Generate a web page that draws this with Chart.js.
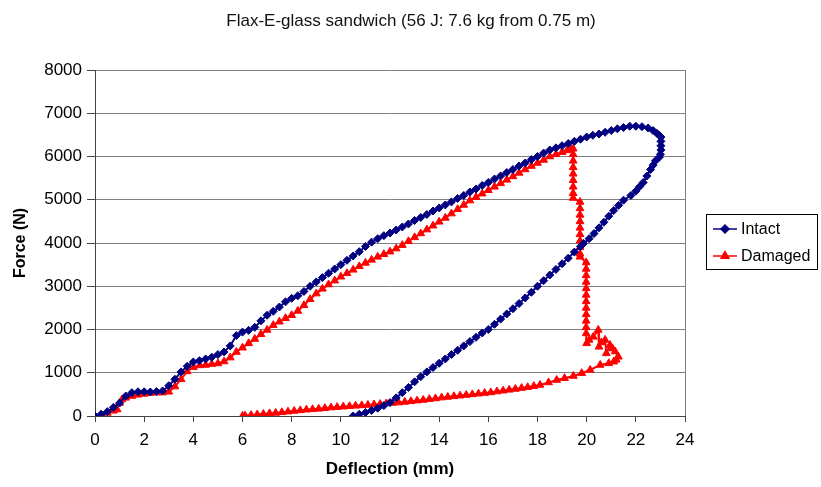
<!DOCTYPE html>
<html>
<head>
<meta charset="utf-8">
<script src="https://cdn.jsdelivr.net/npm/chart.js@4.4.1/dist/chart.umd.min.js"></script>
<style>
  body { margin: 0; background: #fff; }
  canvas { display: block; }
</style>
</head>
<body>
<canvas id="myChart" width="821" height="487"></canvas>
<script>
var chartTitle = 'Flax-E-glass sandwich (56 J: 7.6 kg from 0.75 m)';
var seriesNames = ['Intact', 'Damaged'];

// Intact: loading up to ~23 mm, then unloading back to 10.5 mm
var intactDeflection = [0, 0.25, 0.5, 0.75, 1.0, 1.25, 1.5, 1.75, 2.0, 2.25,
    2.5, 2.75, 3.0, 3.25, 3.5, 3.75, 4.0, 4.25, 4.5, 4.75,
    5.0, 5.25, 5.5, 5.75, 6.0, 6.25, 6.5, 6.75, 7.0, 7.25,
    7.5, 7.75, 8.0, 8.25, 8.5, 8.75, 9.0, 9.25, 9.5, 9.75,
    10.0, 10.25, 10.5, 10.75, 11.0, 11.25, 11.5, 11.75, 12.0, 12.25,
    12.5, 12.75, 13.0, 13.25, 13.5, 13.75, 14.0, 14.25, 14.5, 14.75,
    15.0, 15.25, 15.5, 15.75, 16.0, 16.25, 16.5, 16.75, 17.0, 17.25,
    17.5, 17.75, 18.0, 18.25, 18.5, 18.75, 19.0, 19.25, 19.5, 19.75,
    20.0, 20.25, 20.5, 20.75, 21.0, 21.25, 21.5, 21.75, 22.0,
    22.25, 22.5, 22.7, 22.85, 22.95, 23.02, 23.02, 23.02, 23.02, 23.0,
    22.95, 22.8, 22.7, 22.6, 22.45, 22.3, 22.15, 22.0, 21.8, 21.5,
    21.3, 21.1, 20.9, 20.7, 20.5, 20.3, 20.1, 19.87, 19.75, 19.5,
    19.25, 19.0, 18.75, 18.5, 18.25, 18.0, 17.75, 17.5, 17.25, 17.0,
    16.75, 16.5, 16.25, 16.0, 15.75, 15.5, 15.25, 15.0, 14.75, 14.5,
    14.25, 14.0, 13.75, 13.5, 13.25, 13.0, 12.75, 12.5, 12.25, 12.0,
    11.75, 11.5, 11.25, 11.0, 10.75, 10.5];
var intactForce = [0, 40, 100, 200, 300, 460, 540, 560, 560, 555,
    565, 580, 700, 850, 1020, 1150, 1250, 1280, 1320, 1360,
    1420, 1480, 1620, 1860, 1940, 1980, 2050, 2200, 2330, 2420,
    2520, 2640, 2720, 2780, 2880, 3000, 3100, 3200, 3300, 3400,
    3500, 3600, 3700, 3800, 3920, 4020, 4100, 4170, 4230, 4300,
    4370, 4440, 4520, 4590, 4660, 4740, 4810, 4880, 4950, 5030,
    5100, 5180, 5250, 5330, 5400, 5480, 5550, 5630, 5700, 5780,
    5850, 5930, 6000, 6080, 6150, 6200, 6250, 6300, 6350, 6400,
    6450, 6490, 6520, 6560, 6600, 6640, 6670, 6700, 6700,
    6690, 6660, 6600, 6540, 6490, 6450, 6350, 6250, 6150, 6050,
    5980, 5900, 5800, 5700, 5550, 5400, 5300, 5200, 5100, 4990,
    4870, 4750, 4620, 4480, 4350, 4220, 4100, 3990, 3920, 3790,
    3650, 3520, 3390, 3260, 3130, 3000, 2860, 2730, 2600, 2480,
    2360, 2240, 2120, 2000, 1920, 1820, 1720, 1620, 1520, 1420,
    1320, 1220, 1120, 1020, 910, 790, 660, 540, 420, 310,
    240, 180, 130, 80, 40, 0];

// Damaged: loading to ~19.4 mm, drop, then unloading back to 6 mm
var damagedDeflection = [0, 0.25, 0.5, 0.75, 0.9, 1.0, 1.1, 1.25, 1.5, 1.75,
    2.0, 2.25, 2.5, 2.75, 3.0, 3.25, 3.5, 3.75, 4.0, 4.25,
    4.5, 4.75, 5.0, 5.25, 5.5, 5.75, 6.0, 6.25, 6.5, 6.75,
    7.0, 7.25, 7.5, 7.75, 8.0, 8.25, 8.5, 8.75, 9.0, 9.25,
    9.5, 9.75, 10.0, 10.25, 10.5, 10.75, 11.0, 11.25, 11.5, 11.75,
    12.0, 12.25, 12.5, 12.75, 13.0, 13.25, 13.5, 13.75, 14.0, 14.25,
    14.5, 14.75, 15.0, 15.25, 15.5, 15.75, 16.0, 16.25, 16.5, 16.75,
    17.0, 17.25, 17.5, 17.75, 18.0, 18.25, 18.5, 18.75, 19.0, 19.2,
    19.35, 19.45,
    19.45, 19.45, 19.45, 19.45, 19.45, 19.45, 19.45, 19.45,
    19.73, 19.73, 19.73, 19.73, 19.73, 19.73, 19.73, 19.73, 19.73, 19.73,
    19.98, 19.98, 19.98, 19.98, 19.98, 19.98, 19.98, 19.98, 19.98, 19.98, 19.98, 19.98,
    20.0, 20.1, 20.27, 20.47, 20.5, 20.6, 20.75, 20.8, 20.95, 21.05,
    21.16, 21.29, 21.2, 21.1, 20.9, 20.55, 20.14, 19.8, 19.46, 19.1,
    18.78, 18.45, 18.1,
    17.85, 17.6, 17.35, 17.1, 16.85, 16.6, 16.35, 16.1, 15.85, 15.6,
    15.35, 15.1, 14.85, 14.6, 14.35, 14.1, 13.85, 13.6, 13.35, 13.1,
    12.85, 12.6, 12.35, 12.1, 11.85, 11.6, 11.35, 11.1, 10.85, 10.6,
    10.35, 10.1, 9.85, 9.6, 9.35, 9.1, 8.85, 8.6, 8.35, 8.1,
    7.85, 7.6, 7.35, 7.1, 6.85, 6.6, 6.35, 6.1, 6.0];
var damagedForce = [0, 30, 70, 120, 150, 300, 380, 420, 460, 490,
    510, 530, 540, 540, 560, 680, 850, 1030, 1130, 1170,
    1180, 1200, 1215, 1260, 1350, 1480, 1580, 1680, 1780, 1890,
    1990, 2100, 2180, 2260, 2330, 2430, 2560, 2700, 2830, 2940,
    3040, 3130, 3220, 3300, 3380, 3460, 3540, 3610, 3680, 3740,
    3800, 3870, 3950, 4040, 4130, 4220, 4310, 4400, 4490, 4580,
    4680, 4780, 4880, 4980, 5060, 5140, 5220, 5300, 5380, 5460,
    5540, 5620, 5700, 5780, 5850, 5920, 6000, 6050, 6100, 6140,
    6170, 6180,
    6050, 5900, 5750, 5600, 5450, 5300, 5150, 5040,
    4950, 4800, 4650, 4500, 4350, 4200, 4050, 3900, 3750, 3680,
    3550, 3400, 3250, 3100, 2950, 2800, 2650, 2500, 2350, 2200, 2050, 1910,
    1680, 1760, 1830, 1990, 1600, 1700, 1760, 1450, 1640, 1560,
    1490, 1370, 1300, 1256, 1218, 1180, 1064, 990, 925, 875,
    832, 775, 717,
    690, 665, 645, 625, 605, 585, 565, 545, 530, 515,
    500, 485, 470, 455, 440, 425, 405, 390, 370, 355,
    340, 325, 310, 300, 290, 275, 265, 255, 245, 235,
    225, 215, 205, 195, 180, 165, 155, 145, 130, 115,
    100, 85, 70, 60, 45, 35, 20, 10, 0];

var xTicks = { min: 0, max: 24, step: 2 };
var yTicks = { min: 0, max: 8000, step: 1000 };

var fontFamily = '"Liberation Sans", Arial, sans-serif';
var blue = '#000080';
var red = '#ff0000';

function toPoints(xs, ys) {
    return xs.map(function (x, i) { return { x: x, y: ys[i] }; });
}

// title and boxed legend, drawn like the Excel original
var decorPlugin = {
    id: 'decor',
    afterDraw: function (chart) {
        var c = chart.ctx;
        c.save();
        c.fillStyle = '#111';
        c.font = '17px ' + fontFamily;
        c.textAlign = 'center';
        c.textBaseline = 'middle';
        c.fillText(chartTitle, 411, 21);

        c.strokeStyle = '#000';
        c.lineWidth = 1;
        c.strokeRect(706.5, 214.5, 111, 55);

        var rows = [
            { y: 229, color: blue, style: 'rectRot', r: 4 },
            { y: 256, color: red, style: 'triangle', r: 4.5 }
        ];
        rows.forEach(function (row, i) {
            c.strokeStyle = row.color;
            c.lineWidth = 1.5;
            c.beginPath();
            c.moveTo(713, row.y);
            c.lineTo(737, row.y);
            c.stroke();
            c.fillStyle = row.color;
            Chart.helpers.drawPoint(c, { pointStyle: row.style, radius: row.r, borderWidth: 1 }, 725, row.y);
            c.fill();
            c.fillStyle = '#000';
            c.textAlign = 'left';
            c.font = '16px ' + fontFamily;
            c.fillText(seriesNames[i], 741, row.y + 1);
        });
        c.restore();
    }
};

var ctx = document.getElementById('myChart').getContext('2d');
var myChart = new Chart(ctx, {
    type: 'scatter',
    data: {
        datasets: [{
            label: seriesNames[0],
            data: toPoints(intactDeflection, intactForce),
            showLine: true,
            borderColor: blue,
            backgroundColor: blue,
            borderWidth: 2,
            pointStyle: 'rectRot',
            pointRadius: 4,
            pointBorderWidth: 1
        }, {
            label: seriesNames[1],
            data: toPoints(damagedDeflection, damagedForce),
            showLine: true,
            borderColor: red,
            backgroundColor: red,
            borderWidth: 2,
            pointStyle: 'triangle',
            pointRadius: 4.5,
            pointBorderWidth: 1
        }]
    },
    options: {
        responsive: false,
        animation: false,
        layout: { padding: { top: 70, right: 136, left: 0, bottom: 0 } },
        plugins: {
            legend: { display: false },
            title: { display: false },
            tooltip: { enabled: false }
        },
        scales: {
            x: {
                type: 'linear',
                min: xTicks.min,
                max: xTicks.max,
                ticks: { stepSize: xTicks.step, color: '#000', padding: 8, maxRotation: 0,
                    font: { size: 17, family: fontFamily },
                    callback: function (v) { return String(v); } },
                grid: {
                    color: function (c) {
                        return c.tick && c.tick.value === xTicks.max ? '#808080' : 'rgba(0,0,0,0)';
                    },
                    tickColor: '#444',
                    tickLength: 6
                },
                border: { color: '#444' },
                title: { display: true, text: 'Deflection (mm)', color: '#000',
                    font: { size: 17, weight: 'bold', family: fontFamily },
                    padding: { top: 0, bottom: 7 } },
                afterFit: function (s) { s.height = 71; }
            },
            y: {
                min: yTicks.min,
                max: yTicks.max,
                ticks: { stepSize: yTicks.step, color: '#000', padding: 5,
                    font: { size: 17, family: fontFamily },
                    callback: function (v) { return String(v); } },
                grid: { color: '#808080', tickColor: '#444', tickLength: 8 },
                border: { color: '#444' },
                title: { display: true, text: 'Force (N)', color: '#000',
                    font: { size: 16, weight: 'bold', family: fontFamily },
                    padding: { top: 11, bottom: 0 } },
                afterFit: function (s) { s.width = 95; }
            }
        }
    },
    plugins: [decorPlugin]
});
</script>
</body>
</html>
